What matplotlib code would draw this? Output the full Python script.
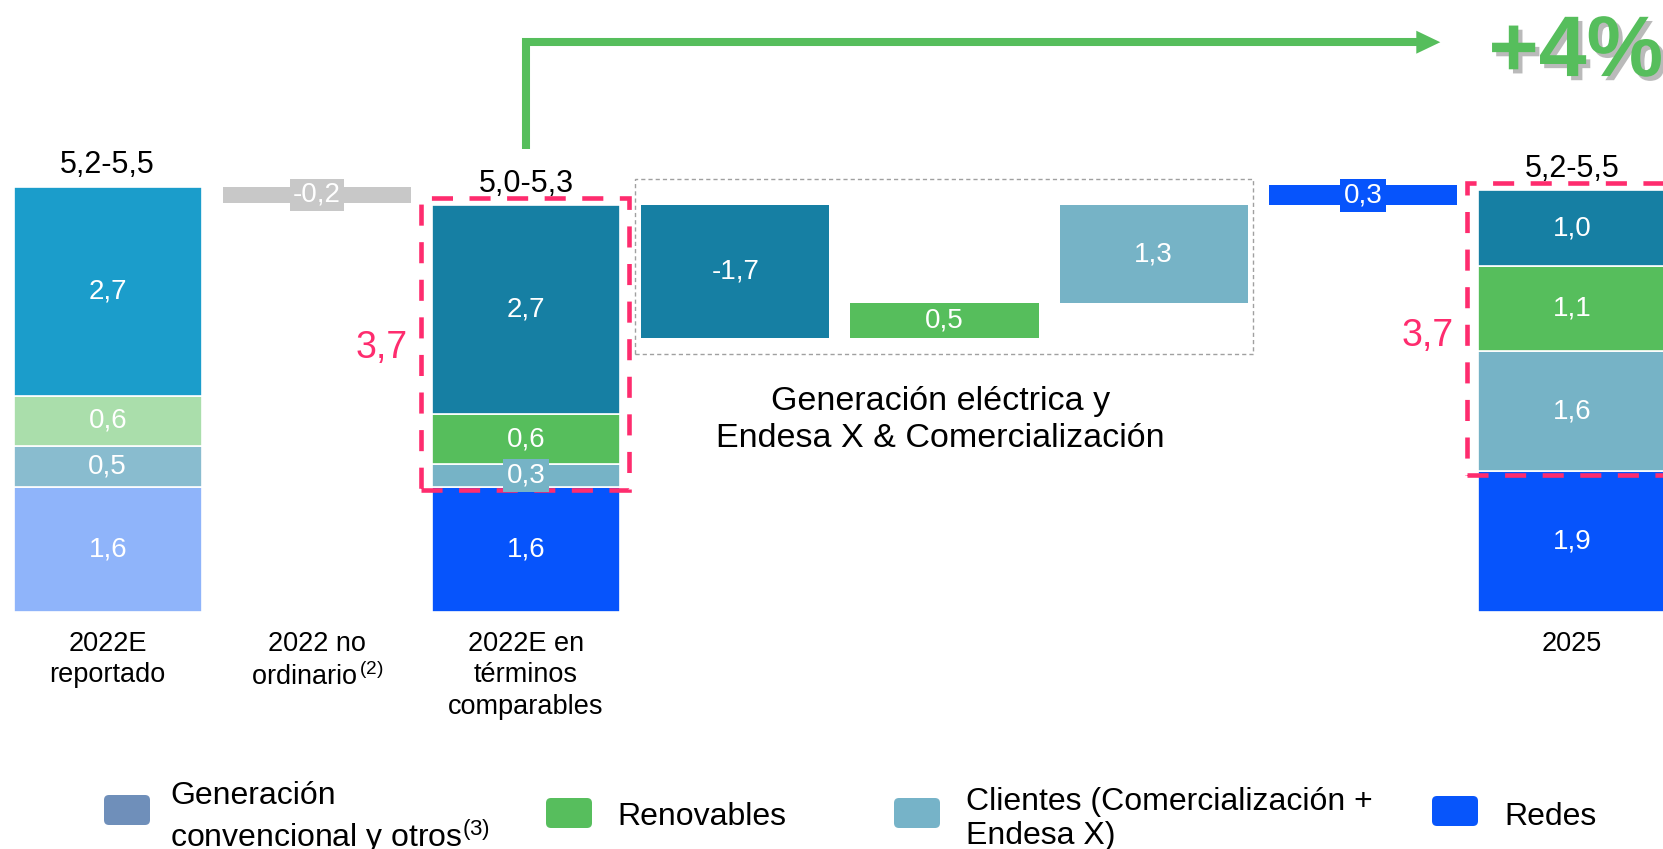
import matplotlib
matplotlib.use("Agg")
import matplotlib.pyplot as plt
from matplotlib.patches import Rectangle, FancyBboxPatch, Polygon
from matplotlib.transforms import IdentityTransform
import matplotlib.patheffects as pe

plt.rcParams['font.family'] = ['Liberation Sans', 'DejaVu Sans']
plt.rcParams['mathtext.fontset'] = 'custom'
plt.rcParams['mathtext.rm'] = 'Liberation Sans'
plt.rcParams['mathtext.it'] = 'Liberation Sans:italic'
plt.rcParams['mathtext.bf'] = 'Liberation Sans:bold'

# ---------------- data ----------------
categories = ["2022E\nreportado", "2022 no\nordinario$^{\\,(2)}$",
              "2022E en\ntérminos\ncomparables", "", "", "", "", "2025"]
series = ["Generación\nconvencional y otros$^{(3)}$", "Renovables",
          "Clientes (Comercialización +\nEndesa X)", "Redes"]
# values per series in order: Generación, Renovables, Clientes, Redes
reported_vals = [2.66, 0.635, 0.52, 1.59]
reported_lbls = ["2,7", "0,6", "0,5", "1,6"]
comparable_vals = [2.655, 0.635, 0.29, 1.59]
comparable_lbls = ["2,7", "0,6", "0,3", "1,6"]
y2025_vals = [0.965, 1.08, 1.525, 1.79]
y2025_lbls = ["1,0", "1,1", "1,6", "1,9"]
no_ordinario_val = -0.21
no_ordinario_lbl = "-0,2"
delta_vals = [-1.69, 0.445, 1.245, 0.25]
delta_lbls = ["-1,7", "0,5", "1,3", "0,3"]
total_lbls = ["5,2-5,5", "5,0-5,3", "5,2-5,5"]
core_lbl = "3,7"
growth_lbl = "+4%"
group_lbl = "Generación eléctrica y\nEndesa X & Comercialización"

# ---------------- styles ----------------
reported_colors = ["#1B9DCB", "#AADEAB", "#89BCCF", "#8FB4FA"]
main_colors = ["#167FA3", "#56BE5C", "#76B3C6", "#0654FC"]
legend_colors = ["#6F8FBA", "#57BE5D", "#76B3C8", "#0755FB"]
gray = "#C8C8C8"
pink = "#FE2C6E"
green = "#56BE5C"

# layout (pixels of the 1663x849 canvas)
W, H = 1663, 849
X0_PX, SLOT_PX = 107.7, 209.2
BASE_PX, UNIT_PX = 612, 78.7
BAR_W = 0.9

fig = plt.figure(figsize=(W / 100, H / 100), dpi=100)
ax = fig.add_axes([0, 0, 1, 1])
ax.set_xlim(-X0_PX / SLOT_PX, (W - X0_PX) / SLOT_PX)
ax.set_ylim(-(H - BASE_PX) / UNIT_PX, BASE_PX / UNIT_PX)
ax.axis("off")

SEG_FS = 20
stack_draw_order = [3, 2, 1, 0]  # bottom -> top: Redes, Clientes, Renovables, Generación


def seg_label(x, y, txt, val, color):
    kw = {}
    if abs(val) < 0.35:
        kw["bbox"] = dict(boxstyle="square,pad=0.12", fc=color, ec="none")
    ax.text(x, y, txt, ha="center", va="center", color="white",
            fontsize=SEG_FS, zorder=5, **kw)


def stacked(pos, vals, lbls, colors):
    bottom = 0.0
    for i in stack_draw_order:
        ax.bar(pos, vals[i], bottom=bottom, width=BAR_W, color=colors[i],
               edgecolor="white", linewidth=1.2, zorder=2)
        seg_label(pos, bottom + vals[i] / 2, lbls[i], vals[i], colors[i])
        bottom += vals[i]
    return bottom


t0 = stacked(0, reported_vals, reported_lbls, reported_colors)
# no ordinario
ax.bar(1, no_ordinario_val, bottom=t0, width=BAR_W, color=gray, zorder=2)
seg_label(1, t0 + no_ordinario_val / 2, no_ordinario_lbl, no_ordinario_val, gray)
t2 = stacked(2, comparable_vals, comparable_lbls, main_colors)

running = t2
for k, (d, lb) in enumerate(zip(delta_vals, delta_lbls)):
    pos = 3 + k
    ax.bar(pos, d, bottom=running, width=BAR_W, color=main_colors[k], zorder=2)
    seg_label(pos, running + d / 2, lb, d, main_colors[k])
    running += d

t7 = stacked(7, y2025_vals, y2025_lbls, main_colors)

# totals
for pos, tot, lb in zip([0, 2, 7], [t0, t2, t7], total_lbls):
    ax.text(pos, tot + 0.27, lb, ha="center", va="center", fontsize=22, color="black")

# pink dashed boxes (core businesses)
for pos, redes, tot in [(2, comparable_vals[3], t2), (7, y2025_vals[3], t7)]:
    y0 = redes - 0.045
    y1 = tot + 0.085
    ax.add_patch(Rectangle((pos - 0.5, y0), 0.99, y1 - y0, fill=False, ec=pink,
                           lw=3.3, linestyle=(0, (4.6, 3.6)), zorder=4))
    ax.text(pos - 0.5 - 0.19, (y0 + y1) / 2 - 0.05 - (0.04 if pos == 7 else 0.0),
            core_lbl, ha="center", va="center", fontsize=27, color=pink)

# grey dashed group box
gy0, gy1 = 3.28, 5.50
ax.add_patch(Rectangle((3 - 0.48, gy0), 2.957, gy1 - gy0, fill=False, ec="#A0A0A0",
                       lw=1.0, linestyle=(0, (3, 2.2)), zorder=1))
ax.text(3.98, gy0 - 0.41, group_lbl, ha="center", va="top", fontsize=24.5,
        linespacing=1.25, color="black")

# category labels
for pos, lb in enumerate(categories):
    if lb:
        ax.text(pos, -0.24, lb, ha="center", va="top", fontsize=19.5,
                linespacing=1.27, color="black")

# growth arrow
ay = 7.24
ax.plot([2, 2, 6.26], [t2 + 0.71, ay, ay], color=green, lw=5.8,
        solid_joinstyle="miter", solid_capstyle="butt", zorder=3)
tip = 6.37
hl = 24 / SLOT_PX
hw = 11.5 / UNIT_PX
ax.add_patch(Polygon([[tip, ay], [tip - hl, ay + hw], [tip - hl, ay - hw]],
                     closed=True, color=green, lw=0, zorder=3))
ax.text(6.60, 6.81, growth_lbl, ha="left", va="baseline", fontsize=62,
        fontweight="bold", color=green,
        path_effects=[pe.SimplePatchShadow(offset=(3, -3), shadow_rgbFace="#777777", alpha=0.5),
                      pe.Normal()])

# legend (manual, pixel positions)
leg_sq_x = [104, 546, 894, 1432]
leg_txt_x = [170, 617, 966, 1504]
leg_cy = [810, 813, 813, 811]
leg_txt_cy = [819, 817, 819, 817]
for name, col, sx, tx, cy, tcy in zip(series, legend_colors, leg_sq_x, leg_txt_x, leg_cy, leg_txt_cy):
    ax.add_patch(FancyBboxPatch((sx + 4, H - cy - 11), 38, 22,
                                boxstyle="round,pad=4,rounding_size=5",
                                fc=col, ec="none", transform=IdentityTransform(),
                                clip_on=False))
    fig.text(tx / W, 1 - tcy / H, name, ha="left", va="center", fontsize=23,
             linespacing=1.2, color="black")

fig.savefig("out.png", dpi=100)
